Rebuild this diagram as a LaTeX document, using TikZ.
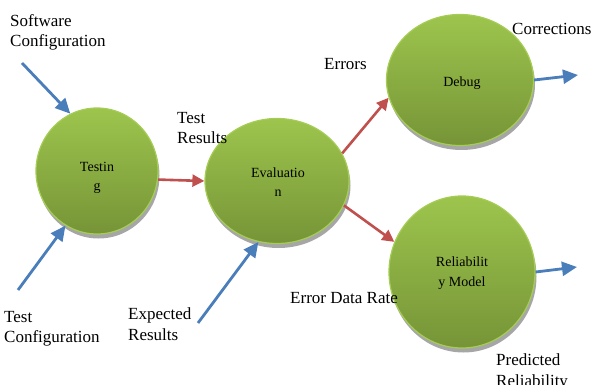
\documentclass[tikz,border=0pt]{standalone}
\usepackage{fontspec}
\setmainfont{Liberation Serif}
\usetikzlibrary{shapes.geometric,shadows,arrows.meta}
\definecolor{blueA}{RGB}{74,126,187}
\definecolor{redA}{RGB}{192,80,77}
\definecolor{gtop}{RGB}{157,197,77}
\definecolor{gbot}{RGB}{118,148,55}
\definecolor{grim}{RGB}{165,205,85}
\begin{document}
\begin{tikzpicture}[x=1pt,y=-1pt,
 bubble/.style={ellipse, draw=grim, line width=1.2pt, top color=gtop, bottom color=gbot, inner sep=0pt,
   drop shadow={shadow xshift=1.5pt, shadow yshift=-4.5pt, fill=black!35, opacity=1}},
 ctext/.style={font=\fontsize{14}{19.5}\selectfont, align=center, inner sep=0pt},
 lbl/.style={font=\fontsize{17}{20.5}\selectfont, align=left, anchor=north west, inner sep=0pt},
 lblb/.style={font=\fontsize{17}{20.5}\selectfont, anchor=base west, inner sep=0pt},
 barrow/.style={draw=blueA, line width=2.8pt, -{Triangle[length=15pt,width=14pt]}},
 rarrow/.style={draw=redA, line width=2.6pt, -{Triangle[length=12pt,width=12pt]}}]
\useasboundingbox (0,0) rectangle (592,385);

\node[bubble, minimum width=122pt, minimum height=126pt] (testing) at (97,171) {};
\node[bubble, minimum width=144pt, minimum height=125pt] (evaluation) at (277,181) {};
\node[bubble, minimum width=147pt, minimum height=131pt] (debug) at (460,80) {};
\node[bubble, minimum width=146pt, minimum height=152pt] (reliability) at (462,272) {};

\node[ctext] (testingT) at (97,178) {Testin\\g};
\node[ctext] (evaluationT) at (278,182) {Evaluatio\\n};
\node[ctext] (debugT) at (462,83) {Debug};
\node[ctext] (reliabilityT) at (462,273) {Reliabilit\\y Model};

\node[lbl] (swconf) at (10,14) {Software\\Configuration};
\node[lbl] (testres) at (177,112) {Test\\Results};
\node[lbl] (testconf) at (4,311) {Test\\Configuration};
\node[lbl] (expres) at (128,308) {Expected\\Results};
\node[lbl] (predrel) at (496,354) {Predicted\\Reliability};
\node[lblb] (errors) at (324,70) {Errors};
\node[lblb] (corr) at (512,35) {Corrections};
\node[lblb] (edr) at (290,303) {Error Data Rate};

\coordinate (swc) at (22,63);
\coordinate (tcc) at (18,290);
\coordinate (erc) at (198,323);
\coordinate (dbgout) at (578,75);
\coordinate (relout) at (577,267);

\draw[barrow] (swc) -- (testing.115);
\draw[barrow] (tcc) -- (testing.240);
\draw[barrow] (erc) -- (evaluation.253);
\draw[rarrow] (testing.-8) -- (evaluation.180);
\draw[rarrow] (evaluation.23) -- (debug.194);
\draw[rarrow] (evaluation.-20) -- (reliability.156);
\draw[barrow] (debug.east) -- (dbgout);
\draw[barrow] (reliability.east) -- (relout);
\end{tikzpicture}
\end{document}
